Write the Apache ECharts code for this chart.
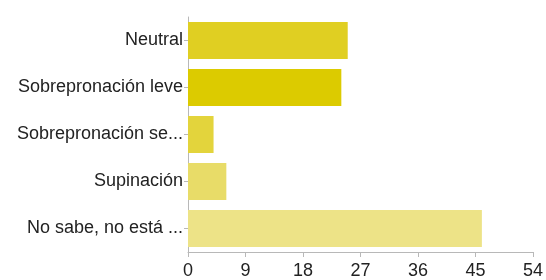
<!DOCTYPE html>
<html>
<head>
<meta charset="utf-8">
<script src="https://cdn.jsdelivr.net/npm/echarts@6/dist/echarts.min.js"></script>
<style>
  html, body { margin: 0; padding: 0; background: #fff; }
  #chart { width: 546px; height: 280px; }
</style>
</head>
<body>
<div id="chart"></div>
<script>
// respuestas
var categories = ['Neutral', 'Sobrepronación leve', 'Sobrepronación se...', 'Supinación', 'No sabe, no está ...'];
var counts = [25, 24, 4, 6, 46];
var barColors = ['#e0cf22', '#dccb00', '#e3d43c', '#e8dc68', '#ede387'];
var xTicks = [0, 9, 18, 27, 36, 45, 54];

var chart = echarts.init(document.getElementById('chart'));

var option = {
  animation: false,
  grid: { left: 188, right: 13, top: 17, bottom: 28, containLabel: false },
  xAxis: {
    type: 'value',
    min: xTicks[0],
    max: xTicks[xTicks.length - 1],
    interval: xTicks[1] - xTicks[0],
    splitLine: { show: false },
    axisLine: { show: true, lineStyle: { color: '#b8b8b8', width: 1 } },
    axisTick: { show: true, length: 5, lineStyle: { color: '#b8b8b8' } },
    axisLabel: { color: '#222', fontSize: 18, fontFamily: 'Liberation Sans, Arial, sans-serif', margin: 10 }
  },
  yAxis: {
    type: 'category',
    inverse: true,
    data: categories,
    axisLine: { show: true, lineStyle: { color: '#b8b8b8', width: 1 } },
    axisTick: { show: true, alignWithLabel: true, length: 4, lineStyle: { color: '#b8b8b8' } },
    axisLabel: { color: '#222', fontSize: 18, fontFamily: 'Liberation Sans, Arial, sans-serif', margin: 5, padding: [6, 0, 0, 0] }
  },
  series: [{
    type: 'bar',
    barWidth: 37,
    data: counts.map(function (v, i) {
      return { value: v, itemStyle: { color: barColors[i] } };
    })
  }]
};

chart.setOption(option);
</script>
</body>
</html>
